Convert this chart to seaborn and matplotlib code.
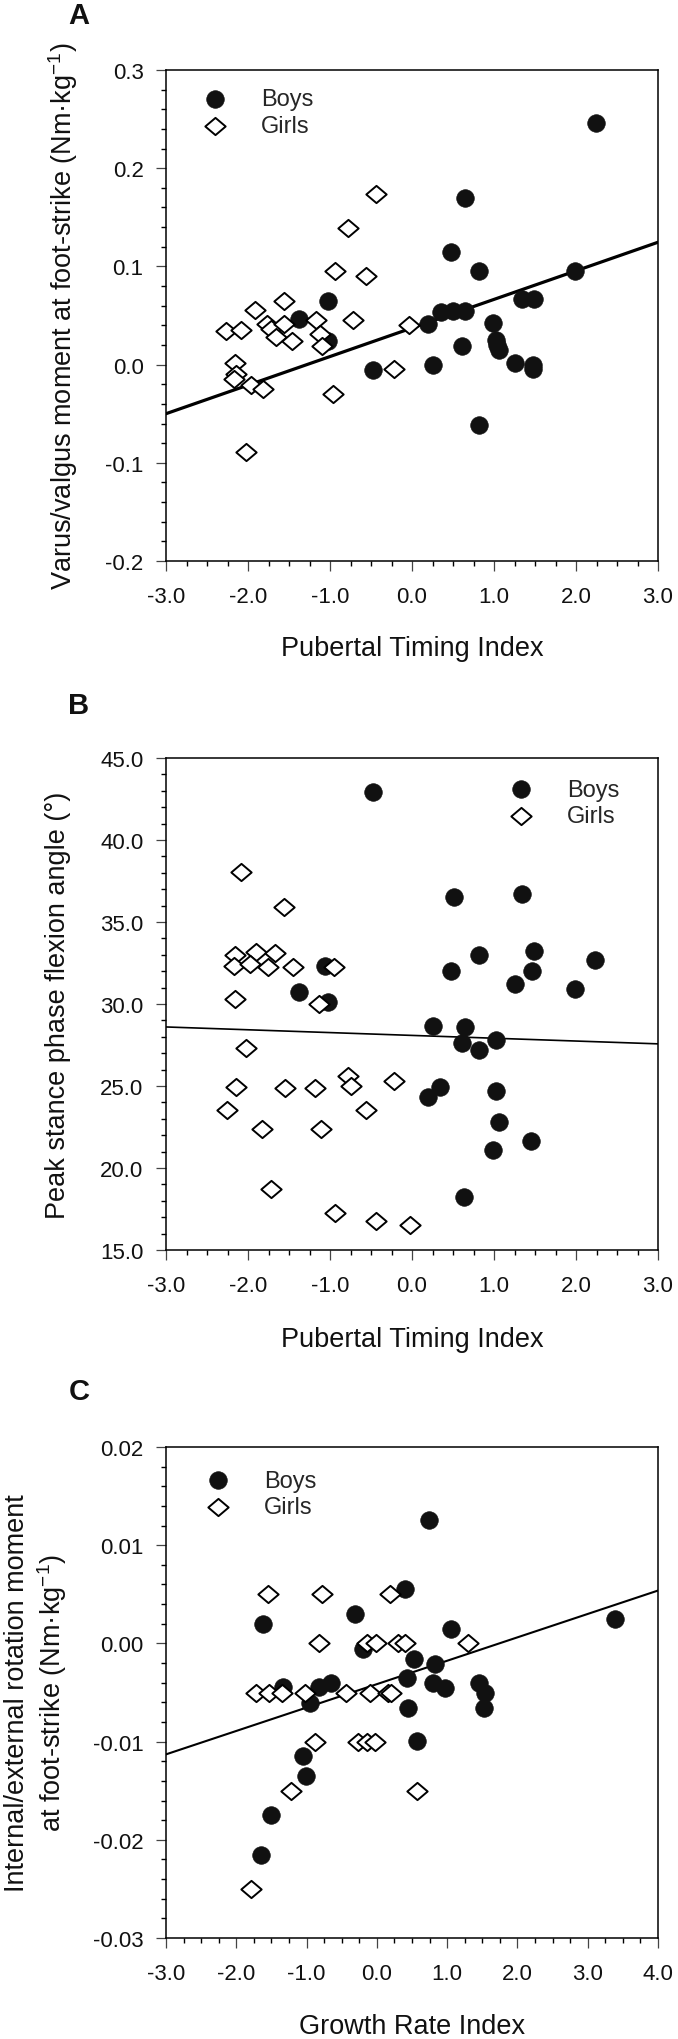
import numpy as np
import matplotlib
matplotlib.use("Agg")
import matplotlib.pyplot as plt
from matplotlib.path import Path
from matplotlib.ticker import MultipleLocator, FormatStrFormatter
import seaborn as sns

# ---------------- Panel A: varus/valgus moment vs pubertal timing ----------------
a_boys_x = [2.24, 0.645, 0.471, 0.819, 1.989, -1.03, -1.372, 1.346, 1.488, 0.356,
            0.503, 0.645, 0.197, 0.988, 1.03, 1.067, 0.608, -1.03, -0.472, 0.25,
            1.251, 1.472, 1.47, 0.819, 1.04]
a_boys_y = [0.246, 0.170, 0.1145, 0.0956, 0.095, 0.0646, 0.0468, 0.0673, 0.0673, 0.0535,
            0.0545, 0.0545, 0.041, 0.042, 0.025, 0.015, 0.0185, 0.024, -0.0054, 0.0,
            0.0017, 0.0, -0.004, -0.061, 0.020]
a_girls_x = [-0.445, -0.777, -0.935, -0.566, -1.557, -1.91, -2.263, -2.08, -1.767, -1.725,
             -1.657, -1.557, -1.462, -1.172, -1.12, -1.093, -0.724, -0.04, -2.157, -2.147,
             -2.173, -1.962, -1.815, -0.224, -0.962, -2.03]
a_girls_y = [0.174, 0.139, 0.095, 0.090, 0.065, 0.0556, 0.0343, 0.035, 0.041, 0.036,
             0.0276, 0.041, 0.024, 0.0455, 0.0316, 0.019, 0.0455, 0.040, 0.0013, -0.0094,
             -0.0145, -0.0205, -0.025, -0.0044, -0.0296, -0.089]
a_fit = (0.0373, 0.0291)  # intercept, slope

# ---------------- Panel B: peak stance phase flexion angle ----------------
b_boys_x = [-0.472, 0.514, 1.346, 0.819, 1.488, 0.471, 1.462, 2.237, 1.251, 1.989,
            -1.067, -1.372, -1.03, 0.25, 0.65, 0.608, 0.819, 1.03, 0.197, 0.345,
            1.03, 1.067, 1.45, 0.988, 0.63]
b_boys_y = [42.94, 36.53, 36.73, 32.98, 33.23, 32.0, 32.0, 32.66, 31.19, 30.93,
            32.31, 30.74, 30.11, 28.65, 28.6, 27.63, 27.22, 27.83, 24.33, 24.94,
            24.69, 22.83, 21.65, 21.09, 18.25]
b_girls_x = [-2.083, -1.557, -2.157, -2.173, -1.899, -1.973, -1.673, -1.762, -1.451, -0.951,
             -2.157, -1.13, -2.03, -0.777, -0.741, -0.224, -2.147, -1.551, -1.188, -2.252,
             -0.556, -1.83, -1.104, -1.715, -0.935, -0.435, -0.03]
b_girls_y = [38.06, 35.94, 32.96, 32.31, 33.17, 32.41, 33.09, 32.27, 32.27, 32.27,
             30.32, 30.03, 27.32, 25.59, 24.98, 25.29, 24.94, 24.88, 24.88, 23.51,
             23.55, 22.38, 22.38, 18.74, 17.23, 16.76, 16.51]
b_fit = (28.085, -0.1717)

# ---------------- Panel C: internal/external rotation moment vs growth rate ----------------
c_boys_x = [0.405, -0.314, -1.623, 1.056, 3.385, 0.743, -0.204, 0.528, 0.823, 0.435,
            -1.329, -0.825, -0.653, 0.792, 0.976, 1.456, 1.542, 1.53, 0.441, -0.947,
            0.577, -1.052, -1.003, -1.5, -1.648]
c_boys_y = [0.0055, 0.0030, 0.0020, 0.0015, 0.0025, 0.01256, -0.0006, -0.0016, -0.0021, -0.0035,
            -0.0044, -0.0044, -0.0040, -0.0040, -0.0045, -0.0040, -0.0050, -0.0066, -0.0066, -0.0061,
            -0.00996, -0.0115, -0.0135, -0.0175, -0.0215]
c_girls_x = [-1.543, -0.775, 0.19, -0.825, -0.142, -0.007, 0.30, 0.405, 1.302, -1.716,
             -1.531, -1.347, -1.021, -0.438, -0.1, 0.158, 0.2, -0.886, -0.265, -0.142,
             -0.032, 0.565, -1.224, -1.79]
c_girls_y = [0.005, 0.005, 0.005, 0.0, 0.0, 0.0, 0.0, 0.0, 0.0, -0.005,
             -0.005, -0.005, -0.005, -0.005, -0.005, -0.005, -0.005, -0.01, -0.01, -0.01,
             -0.01, -0.015, -0.015, -0.025]
c_fit = (-0.00415, 0.002383)

group_labels = ["Boys", "Girls"]

# ---------------- style ----------------
sns.set_theme(style="ticks")
plt.rcParams["font.family"] = ["Liberation Sans", "DejaVu Sans"]
plt.rcParams["mathtext.fontset"] = "custom"
plt.rcParams["mathtext.rm"] = "Liberation Sans"
plt.rcParams["mathtext.it"] = "Liberation Sans:italic"
plt.rcParams["mathtext.default"] = "regular"
plt.rcParams["axes.unicode_minus"] = False

W, H = 678, 2040
fig = plt.figure(figsize=(W / 100, H / 100), dpi=100)

diamond = Path([(0, 1), (1.18, 0), (0, -1), (-1.18, 0), (0, 1)],
               [Path.MOVETO, Path.LINETO, Path.LINETO, Path.LINETO, Path.CLOSEPOLY])

TICK_FS = 16
LABEL_FS = 19.5
LEG_FS = 17


def make_axes(top_px, bottom_px):
    left_px, right_px = 166, 658
    return fig.add_axes([left_px / W, 1 - bottom_px / H,
                         (right_px - left_px) / W, (bottom_px - top_px) / H])


def draw_panel(ax, bx, by, gx, gy, fit, xlim, ylim, xmaj, ymaj, xmin_, ymin_, yfmt,
               xlabel, ylabel, ylab_x, xlab_y, leg_anchor, line_w):
    ax.set_xlim(*xlim)
    ax.set_ylim(*ylim)
    xs = np.array(xlim, dtype=float)
    sns.lineplot(x=xs, y=fit[0] + fit[1] * xs, color="black", linewidth=line_w,
                 ax=ax, zorder=2)
    sns.scatterplot(x=bx, y=by, ax=ax, marker="o", color="#111111", edgecolor="#111111",
                    s=160, linewidth=0.5, label=group_labels[0], zorder=3)
    sns.scatterplot(x=gx, y=gy, ax=ax, marker=diamond, color="white", edgecolor="black",
                    s=215, linewidth=1.4, label=group_labels[1], zorder=4)
    ax.xaxis.set_major_locator(MultipleLocator(xmaj))
    ax.xaxis.set_minor_locator(MultipleLocator(xmin_))
    ax.yaxis.set_major_locator(MultipleLocator(ymaj))
    ax.yaxis.set_minor_locator(MultipleLocator(ymin_))
    ax.xaxis.set_major_formatter(FormatStrFormatter("%.1f"))
    ax.yaxis.set_major_formatter(FormatStrFormatter(yfmt))
    ax.tick_params(which="major", direction="out", length=7.2, width=0.9, color="#444444",
                   labelsize=TICK_FS, labelcolor="#111111")
    ax.tick_params(axis="y", which="major", pad=9)
    ax.tick_params(axis="x", which="major", pad=11)
    ax.tick_params(which="minor", direction="out", length=3.8, width=1.0, color="black")
    for sp in ax.spines.values():
        sp.set_visible(True)
        sp.set_linewidth(1.1)
        sp.set_color("black")
    ax.set_xlabel(xlabel, fontsize=LABEL_FS, va="center", color="#111111")
    ax.set_ylabel(ylabel, fontsize=LABEL_FS, va="center", ha="center",
                  multialignment="center", color="#111111")
    ax.yaxis.set_label_coords(ylab_x, 0.5)
    ax.xaxis.set_label_coords(0.5, xlab_y)
    ax.legend(loc="upper left", bbox_to_anchor=leg_anchor, frameon=False,
              fontsize=LEG_FS, handlelength=1.0, handletextpad=1.45,
              labelspacing=0.2, borderpad=0, borderaxespad=0)
    ax.set_facecolor("white")


axA = make_axes(71, 562)
draw_panel(axA, a_boys_x, a_boys_y, a_girls_x, a_girls_y, a_fit,
           (-3, 3), (-0.2, 0.3), 1.0, 0.1, 0.25, 0.02, "%.1f",
           "Pubertal Timing Index",
           "Varus/valgus moment at foot-strike (Nm\u00b7kg$^{-1}$)",
           -0.210, -0.177, (0.075, 0.963), 2.3)

axB = make_axes(759, 1251)
draw_panel(axB, b_boys_x, b_boys_y, b_girls_x, b_girls_y, b_fit,
           (-3, 3), (15, 45), 1.0, 5.0, 0.25, 1.0, "%.1f",
           "Pubertal Timing Index",
           "Peak stance phase flexion angle (\u00b0)",
           -0.2195, -0.181, (0.697, 0.958), 1.2)

axC = make_axes(1448, 1939)
draw_panel(axC, c_boys_x, c_boys_y, c_girls_x, c_girls_y, c_fit,
           (-3, 4), (-0.03, 0.02), 1.0, 0.01, 0.25, 0.002, "%.2f",
           "Growth Rate Index",
           "Internal/external rotation moment\nat foot-strike (Nm\u00b7kg$^{-1}$)",
           -0.264, -0.179, (0.0813, 0.954), 1.5)

for letter, ypx in [("A", 16), ("B", 706), ("C", 1392)]:
    fig.text(79 / W, 1 - ypx / H, letter, fontsize=21, fontweight="bold",
             ha="center", va="center", color="#111111")

fig.savefig("out.png", dpi=100, facecolor="white")
